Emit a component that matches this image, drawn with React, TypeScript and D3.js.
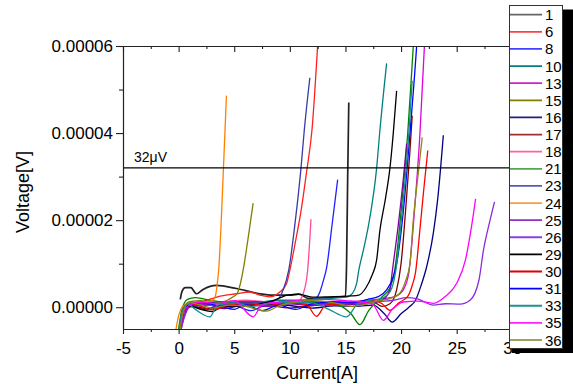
import React, { useEffect, useRef } from "react";
import * as d3 from "d3";

// sample names shown in the legend
const sampleNames = ["1", "6", "8", "10", "13", "15", "16", "17", "18", "21", "23", "24", "25", "26", "29", "30", "31", "33", "35", "36"];

// [current A, voltage µV]
const s1 = [[0.15, 1.8], [0.3, 3.6], [0.6, 4.5], [1.1, 4.5], [1.6, 3.1], [2.2, 4.1], [3.4, 5.0], [5.2, 4.3], [7.3, 3.1], [8.5, 2.8], [10.2, 2.8], [10.8, 3.0], [11.7, 2.0], [13.5, 2.2], [15.0, 2.5], [15.1, 10], [15.2, 30], [15.3, 47]];
const s6 = [[0.05, -6], [0.3, -1], [0.8, 0.6], [1.5, 0.8], [2.5, 1.6], [3.5, 2.4], [5.2, 3.1], [6.4, 3.5], [7.3, 2.8], [8.2, 2.4], [9.1, 3.5], [9.7, 5.4], [10.0, 8.5], [10.5, 15], [11.0, 22], [11.5, 31], [12.0, 41], [12.5, 60], [12.6, 64]];
const s8 = [[0.1, -6], [0.4, -1], [0.9, 0.8], [2, 0.3], [3.5, 1.0], [5, 0.5], [6.5, -0.8], [7.5, 0.2], [9, 0.8], [10.5, 1.2], [11.5, 1.5], [12.3, 2.0], [12.7, 3.5], [13.0, 6], [13.3, 9], [13.8, 19], [14.3, 29.3]];
const s10 = [[0.1, -6], [0.4, -1.5], [1.0, 1.0], [2.0, 1.2], [3.5, 0.9], [5, 1.4], [7, 1.2], [9, 1.6], [11, 1.6], [12.5, 1.9], [14, 2.1], [15.2, 2.4], [15.6, 3.1], [16.0, 5.4], [16.2, 8.5], [16.6, 13], [17.1, 19.2], [17.8, 31.9], [18.1, 40.7], [18.7, 56]];
const s13 = [[0.1, -6], [0.5, -0.5], [1.2, 0.5], [3, 0.9], [5, 0.7], [7, 1.2], [9, 0.8], [11, 1.4], [13, 1.3], [15, 1.2], [17, 1.6], [18.5, 2.0], [19.5, 2.5], [20.2, 4], [20.7, 8], [21.2, 22], [21.7, 40], [22.1, 60], [22.2, 64]];
const s15 = [[0.1, -6], [0.4, -1], [0.9, 1.2], [2, 1.5], [3, 1.1], [4.0, 1.3], [4.9, 2.4], [5.25, 3.1], [5.55, 5.4], [5.8, 8.5], [6.2, 15], [6.7, 23.9]];
const s16 = [[0.1, -6], [0.5, -1], [1.2, 0.2], [2.5, -0.3], [4, 0.5], [6, 0.3], [8, 0.7], [10, 0.4], [12, -0.2], [14, 0.3], [16, 0.2], [17.5, 0.5], [18.5, -1.5], [19.2, -3.4], [20.0, -1.5], [20.7, 0], [21.3, 1.6], [21.8, 5], [22.3, 9.3], [22.9, 17], [23.3, 25], [23.8, 39.5]];
const s17 = [[0.1, -6], [0.4, -1.5], [1, 0.4], [2.5, -0.6], [4, 0.2], [6, 0.8], [8, 0.5], [10, -0.2], [12, 0.4], [14, 0.6], [16, 0.9], [17.5, 1.2], [18.3, 0.2], [19.0, 0.8], [19.6, 4], [20.0, 10], [20.4, 22], [20.8, 36], [21.0, 44]];
const s18 = [[0.1, -6], [0.3, -2], [0.8, 0.5], [2, 1.0], [4, 1.3], [6, 1.6], [8, 1.2], [9.5, 1.0], [10.8, 1.5], [11.2, 3.1], [11.6, 8.5], [11.9, 20.2]];
const s21 = [[0.0, -5], [0.3, -0.5], [0.8, 1.8], [1.5, 2.2], [3, 1.5], [5, 1.0], [7, 1.3], [9, 1.0], [11, 1.2], [13, 0.9], [14.5, 0.3], [15.5, -1.5], [16.3, -4.0], [17.1, -0.7], [18.3, 2.4], [19.0, 4.5], [19.4, 8], [20.0, 22], [20.6, 40], [21.1, 60], [21.2, 64]];
const s23 = [[0.1, -6], [0.4, -1], [1, 0.5], [2.5, 1.2], [4, 0.8], [5.5, 1.2], [7, 1.0], [8.3, 1.2], [9.0, 2.0], [9.4, 4], [9.9, 8.5], [10.5, 20], [11.0, 31.9], [11.3, 40.7], [11.8, 52.7]];
const s24 = [[-0.3, -6], [0, -2], [0.5, 0.5], [1.2, 0.9], [2.2, 1.2], [3.0, 1.5], [3.3, 2.5], [3.5, 6], [3.6, 8.5], [3.8, 18], [4.0, 30], [4.3, 48.6]];
const s25 = [[0.15, -6], [0.5, -2], [1.0, 0.2], [2.5, 0.6], [4, -0.3], [6, 0.5], [8, 0.2], [10, 0.8], [12, 0.4], [14, 0.9], [16, 0.6], [17.5, 1.0], [18.5, 2.0], [19.0, 4], [19.2, 8], [19.8, 20], [20.3, 32], [20.5, 37.6]];
const s26 = [[0.15, -6], [0.5, -2.5], [1.0, 0.0], [2.5, 0.5], [4.5, 0.2], [6.5, 0.8], [8.5, 0.3], [10.5, 0.9], [12.5, 0.6], [14.5, 1.0], [16.5, 0.8], [18, 1.3], [19.3, 1.6], [20.5, 2.2], [21.4, 2.0], [22.9, 0.5], [24.0, 0.8], [25.3, 0.7], [26.2, 1.6], [27.0, 6.2], [27.4, 13], [28.0, 20], [28.4, 24.2]];
const s29 = [[0.1, -6], [0.4, -0.5], [1.0, 0.3], [2.0, -0.5], [3.0, -1.0], [4.0, 0.2], [5.5, 0.3], [7, 0.6], [8.5, 1.5], [9.8, 2.8], [10.8, 3.0], [12, 2.3], [13.5, 2.4], [15.5, 2.6], [16.2, 2.8], [16.8, 4.3], [17.4, 7.4], [17.8, 10.8], [18.1, 17.7], [18.6, 25], [19.0, 32], [19.3, 40], [19.6, 49.7]];
const s30 = [[0.1, -6], [0.4, -1], [1, 0.8], [2, 0.2], [3, -0.6], [4.5, 0.5], [6, 0.9], [8, 0.4], [10, 1.0], [11.5, 0.6], [12.4, -2.1], [13.2, 0.4], [14.5, 0.8], [16, 1.3], [17.5, 1.5], [18.3, 0.8], [19.0, -0.7], [19.8, 1.0], [20.6, 2.5], [21.0, 5], [21.3, 8], [21.7, 18], [22.0, 26], [22.4, 36]];
const s31 = [[0.1, -6], [0.4, -1], [0.9, 0.6], [2, 1.0], [3.5, 0.4], [5, -0.5], [6, 0.6], [7.5, -0.8], [9, 0.5], [10.5, -0.5], [12, 0.8], [14, 1.2], [15.5, 1.0], [17, 1.8], [18, 2.5], [18.7, 4], [19.3, 7], [19.6, 10], [20.2, 22], [20.8, 40], [21.4, 60], [21.5, 64]];
const s33 = [[0.0, -6], [0.3, -1], [0.8, 0.8], [1.5, -0.5], [2.8, -2.2], [3.5, 0.5], [5, 1.0], [6.5, 0.2], [8, 0.8], [10, 1.2], [12, 1.0], [13.5, -0.5], [15.1, -2.2], [16, 0.5], [17, 1.5], [18.2, 2.0], [19.0, 3.5], [19.5, 8], [20.1, 22], [20.7, 40], [21.0, 52]];
const s35 = [[0.1, -6], [0.4, -1.5], [1, 0.5], [2, 1.2], [3.5, 0.8], [5, 1.5], [6.7, -2.2], [7.5, 0.6], [9, 1.2], [11, 1.6], [13, 1.8], [15, 1.5], [16.5, 1.2], [17.5, 0.5], [18.4, -3.0], [19.2, -0.5], [20.2, 1.2], [21.5, 1.4], [22.9, 0.9], [24.0, 2.5], [25.0, 5.5], [25.8, 11], [26.3, 18], [26.7, 24.9]];
const s36 = [[0.1, -6], [0.4, -1], [1, 1.0], [2, 0.5], [3, -0.2], [4.5, 0.5], [6, 0.2], [7.9, -0.9], [9, 0.3], [10.5, 1.2], [12, 1.5], [14, 1.0], [15.5, 0.2], [16.5, 0.5], [18, 1.5], [19, 2.0], [19.8, 3], [20.4, 6], [20.8, 10], [21.1, 20], [21.6, 32], [21.9, 39]];

const seriesData = [s1, s6, s8, s10, s13, s15, s16, s17, s18, s21, s23, s24, s25, s26, s29, s30, s31, s33, s35, s36];

const xTicks = [-5, 0, 5, 10, 15, 20, 25, 30];
const yTicks = [0, 20, 40, 60]; // µV
const thresholdUV = 32;

const colors = ["#222222", "#ff2020", "#2020ff", "#008080", "#e000e0", "#808000", "#000080", "#800000", "#ff4a9a", "#008000", "#3a3aa8", "#ff8000", "#8000a0", "#8a2be2", "#000000", "#ff0000", "#0000ff", "#109090", "#ff00ff", "#8a8a10"];
const legendColors = ["#666666", "#ff4040", "#4040ff", "#008080", "#d020d0", "#808000", "#202080", "#a03030", "#ff60a0", "#50a850", "#5a5ab4", "#ff9a40", "#9030c0", "#8a40e0", "#000000", "#e00000", "#0000ff", "#209090", "#ff20ff", "#a0a060"];

const W = 573;
const H = 384;

const App = () => {
  const ref = useRef(null);

  useEffect(() => {
    const svg = d3.select(ref.current);
    svg.selectAll("*").remove();

    const x = d3.scaleLinear().domain([-5, 30]).range([123, 512.3]);
    const y = d3.scaleLinear().domain([-5, 60]).range([329, 46]);
    const font = "Arial, 'Liberation Sans', sans-serif";

    svg.append("defs").append("clipPath").attr("id", "plotclip")
      .append("rect").attr("x", 123).attr("y", 46).attr("width", 389).attr("height", 283);

    // curves
    const line = d3.line().x((d) => x(d[0])).y((d) => y(d[1])).curve(d3.curveMonotoneX);
    const g = svg.append("g").attr("clip-path", "url(#plotclip)");
    seriesData.forEach((pts, i) => {
      g.append("path").attr("d", line(pts)).attr("fill", "none")
        .attr("stroke", colors[i]).attr("stroke-width", i === 0 ? 1.7 : 1.3);
    });

    // 32 µV line
    svg.append("line").attr("x1", 123).attr("x2", 512).attr("y1", y(thresholdUV)).attr("y2", y(thresholdUV))
      .attr("stroke", "#000").attr("stroke-width", 1.4);
    svg.append("text").attr("x", 134).attr("y", y(thresholdUV) - 6).attr("font-family", font)
      .attr("font-size", 14).attr("fill", "#000").text("32μV");

    // axes
    const minorX = xTicks.slice(0, -1).map((t) => t + 2.5);
    const minorY = yTicks.slice(0, -1).map((t) => t + 10);

    const styleAxis = (sel) => {
      sel.selectAll("path, line").attr("stroke", "#222").attr("stroke-width", 1.1);
      sel.selectAll("text").attr("font-family", font).attr("font-size", 17).attr("fill", "#000");
    };

    svg.append("g").attr("transform", "translate(0,329)")
      .call(d3.axisBottom(x).tickValues(xTicks).tickSize(5).tickPadding(8).tickSizeOuter(0).tickFormat((d) => String(d)))
      .call(styleAxis);
    svg.append("g").attr("transform", "translate(0,329)")
      .call(d3.axisBottom(x).tickValues(minorX).tickSize(3).tickSizeOuter(0).tickFormat(() => ""))
      .call(styleAxis);
    svg.append("g").attr("transform", "translate(0,46)")
      .call(d3.axisTop(x).tickValues(xTicks).tickSize(-6).tickSizeOuter(0).tickFormat(() => ""))
      .call(styleAxis);
    svg.append("g").attr("transform", "translate(0,46)")
      .call(d3.axisTop(x).tickValues(minorX).tickSize(-3).tickSizeOuter(0).tickFormat(() => ""))
      .call(styleAxis);
    svg.append("g").attr("transform", "translate(123,0)")
      .call(d3.axisLeft(y).tickValues(yTicks).tickSize(7).tickPadding(3).tickSizeOuter(0).tickFormat((d) => (d * 1e-6).toFixed(5)))
      .call(styleAxis);
    svg.append("g").attr("transform", "translate(123,0)")
      .call(d3.axisLeft(y).tickValues(minorY).tickSize(4).tickSizeOuter(0).tickFormat(() => ""))
      .call(styleAxis);

    // axis titles
    svg.append("text").attr("x", 317).attr("y", 379).attr("text-anchor", "middle")
      .attr("font-family", font).attr("font-size", 18).text("Current[A]");
    svg.append("text").attr("transform", "translate(29,192) rotate(-90)").attr("text-anchor", "middle")
      .attr("font-family", font).attr("font-size", 18).text("Voltage[V]");

    // legend
    const lx = 509.5, ly = 5.5, lw = 53, lh = 343;
    svg.append("rect").attr("x", 512).attr("y", 9.5).attr("width", 70).attr("height", 343.5).attr("fill", "#000");
    svg.append("rect").attr("x", lx).attr("y", ly).attr("width", lw).attr("height", lh)
      .attr("fill", "#fff").attr("stroke", "#333").attr("stroke-width", 1);
    svg.select("defs").append("clipPath").attr("id", "legclip")
      .append("rect").attr("x", lx).attr("y", ly).attr("width", lw).attr("height", lh);
    const leg = svg.append("g").attr("clip-path", "url(#legclip)");
    const rowY = d3.scaleLinear().domain([0, sampleNames.length - 1]).range([14.7, 340]);
    sampleNames.forEach((name, i) => {
      const yy = rowY(i);
      leg.append("line").attr("x1", 510).attr("x2", 542).attr("y1", yy).attr("y2", yy)
        .attr("stroke", legendColors[i]).attr("stroke-width", 1.8);
      leg.append("text").attr("x", 545).attr("y", yy + 5.5).attr("font-family", font)
        .attr("font-size", 15).attr("fill", "#000").text(name);
    });
  }, []);

  return <svg ref={ref} width={W} height={H} style={{ position: "absolute", left: 0, top: 0, background: "#fff" }}></svg>;
};

export default App;
